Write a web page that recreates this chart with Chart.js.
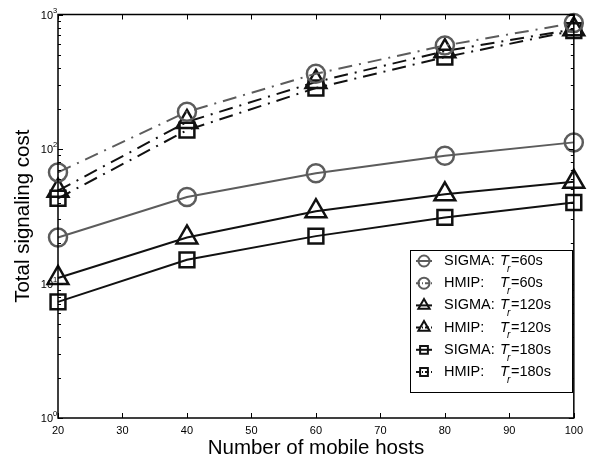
<!DOCTYPE html>
<html lang="en">
<head>
  <meta charset="UTF-8" />
  <title>Total signaling cost</title>
  <style>
    html, body { margin: 0; padding: 0; background: #fff; }
    canvas { display: block; }
  </style>
</head>
<body>
  <canvas id="costChart" width="589" height="463"></canvas>

  <script src="https://cdn.jsdelivr.net/npm/chart.js"></script>
  <script>
    // data
    const hosts = [20, 40, 60, 80, 100];
    const sigma60  = [22, 44, 66, 89, 112];
    const hmip60   = [67, 189, 363, 588, 864];
    const sigma120 = [11, 22, 34.5, 46, 57];
    const hmip120  = [49, 159, 315, 534, 776];
    const sigma180 = [7.3, 15, 22.5, 31, 40];
    const hmip180  = [43, 138, 284, 482, 759];

    const xTicks = [20, 30, 40, 50, 60, 70, 80, 90, 100];
    const yDecades = [0, 1, 2, 3];
    const protocols = ["SIGMA:", "HMIP:", "SIGMA:", "HMIP:", "SIGMA:", "HMIP:"];
    const periods = ["=60s", "=60s", "=120s", "=120s", "=180s", "=180s"];

    const FONT = "'Liberation Sans', Arial, Helvetica, sans-serif";
    const GRAY = "#5c5c5c";
    const BLACK = "#111";
    const DASHDOT = [14, 7, 2, 7];

    function series(values, color, style, radius, dashed) {
      return {
        data: hosts.map((h, i) => ({ x: h, y: values[i] })),
        borderColor: color,
        backgroundColor: "rgba(0,0,0,0)",
        borderWidth: 2,
        borderDash: dashed ? DASHDOT : [],
        pointStyle: style,
        pointRadius: radius,
        pointBorderWidth: 2.5,
        pointBorderColor: color,
        pointBackgroundColor: "rgba(0,0,0,0)",
        tension: 0,
        clip: false
      };
    }

    const datasets = [
      series(sigma60, GRAY, "circle", 9, false),
      series(hmip60, GRAY, "circle", 9, true),
      series(sigma120, BLACK, "triangle", 12, false),
      series(hmip120, BLACK, "triangle", 12, true),
      series(sigma180, BLACK, "rect", 10.5, false),
      series(hmip180, BLACK, "rect", 10.5, true)
    ];

    // box, inward ticks, y labels with exponents, legend
    const framePlugin = {
      id: "frame",
      afterDraw(chart) {
        const ctx = chart.ctx;
        const a = chart.chartArea;
        const xs = chart.scales.x, ys = chart.scales.y;
        ctx.save();
        ctx.strokeStyle = "#000";
        ctx.lineWidth = 1.5;
        ctx.setLineDash([]);
        ctx.strokeRect(a.left, a.top, a.right - a.left, a.bottom - a.top);

        ctx.lineWidth = 1;
        ctx.beginPath();
        xTicks.forEach(v => {
          const px = Math.round(xs.getPixelForValue(v)) + 0.5;
          ctx.moveTo(px, a.bottom); ctx.lineTo(px, a.bottom - 5);
          ctx.moveTo(px, a.top); ctx.lineTo(px, a.top + 5);
        });
        yDecades.forEach(d => {
          for (let m = 1; m <= 9; m++) {
            if (d === 3 && m > 1) break;
            const py = Math.round(ys.getPixelForValue(m * Math.pow(10, d))) + 0.5;
            const len = m === 1 ? 5 : 3;
            ctx.moveTo(a.left, py); ctx.lineTo(a.left + len, py);
            ctx.moveTo(a.right, py); ctx.lineTo(a.right - len, py);
          }
        });
        ctx.stroke();

        ctx.fillStyle = "#000";
        yDecades.forEach(d => {
          const py = ys.getPixelForValue(Math.pow(10, d));
          ctx.font = "11px " + FONT;
          ctx.textAlign = "right";
          ctx.textBaseline = "middle";
          ctx.fillText("10", a.left - 5, py + 1);
          ctx.font = "7.5px " + FONT;
          ctx.textAlign = "left";
          ctx.fillText(String(d), a.left - 5, py - 4);
        });

        // legend
        const lx = 410, ly = 250, lw = 162, lh = 142;
        ctx.fillStyle = "#fff";
        ctx.fillRect(lx, ly, lw, lh);
        ctx.strokeStyle = "#000";
        ctx.lineWidth = 1;
        ctx.strokeRect(lx + 0.5, ly + 0.5, lw, lh);
        chart.data.datasets.forEach((ds, i) => {
          const cy = ly + 11 + i * 22.2;
          ctx.strokeStyle = ds.borderColor;
          ctx.lineWidth = 2;
          ctx.setLineDash(ds.borderDash.length ? [4, 2, 1, 2] : []);
          ctx.beginPath();
          ctx.moveTo(lx + 6, cy); ctx.lineTo(lx + 22, cy);
          ctx.stroke();
          ctx.setLineDash([]);
          ctx.lineWidth = 2;
          ctx.fillStyle = "rgba(0,0,0,0)";
          Chart.helpers.drawPoint(ctx, {
            pointStyle: ds.pointStyle,
            radius: ds.pointStyle === "triangle" ? 6.5 : 5.5,
            rotation: 0,
            borderWidth: 2
          }, lx + 14, cy);

          ctx.fillStyle = "#000";
          ctx.textAlign = "left";
          ctx.textBaseline = "middle";
          ctx.font = "14.5px " + FONT;
          ctx.fillText(protocols[i], lx + 34, cy);
          ctx.font = "italic 14.5px " + FONT;
          ctx.fillText("T", lx + 90, cy);
          ctx.font = "italic 10px " + FONT;
          ctx.fillText("r", lx + 97, cy + 8);
          ctx.font = "14.5px " + FONT;
          ctx.fillText(periods[i], lx + 101, cy);
        });
        ctx.restore();
      }
    };

    new Chart(document.getElementById("costChart"), {
      type: "line",
      data: { datasets },
      options: {
        responsive: false,
        animation: false,
        events: [],
        layout: { padding: { left: 0, top: 12, right: 15, bottom: 0 } },
        plugins: { legend: { display: false }, tooltip: { enabled: false } },
        scales: {
          x: {
            type: "linear",
            min: 20,
            max: 100,
            grid: { display: false, drawTicks: false },
            border: { display: false },
            ticks: { stepSize: 10, color: "#000", padding: 6, font: { family: FONT, size: 11 } },
            title: {
              display: true,
              text: "Number of mobile hosts",
              color: "#000",
              font: { family: FONT, size: 20.5 },
              padding: { top: 0, bottom: 2 }
            },
            afterFit: s => { s.height = 45; }
          },
          y: {
            type: "logarithmic",
            min: 1,
            max: 1000,
            grid: { display: false, drawTicks: false },
            border: { display: false },
            ticks: { display: false },
            title: {
              display: true,
              text: "Total signaling cost",
              color: "#000",
              font: { family: FONT, size: 20.5 },
              padding: { top: 11, bottom: 0 }
            },
            afterFit: s => { s.width = 58; }
          }
        }
      },
      plugins: [framePlugin]
    });
  </script>
</body>
</html>
